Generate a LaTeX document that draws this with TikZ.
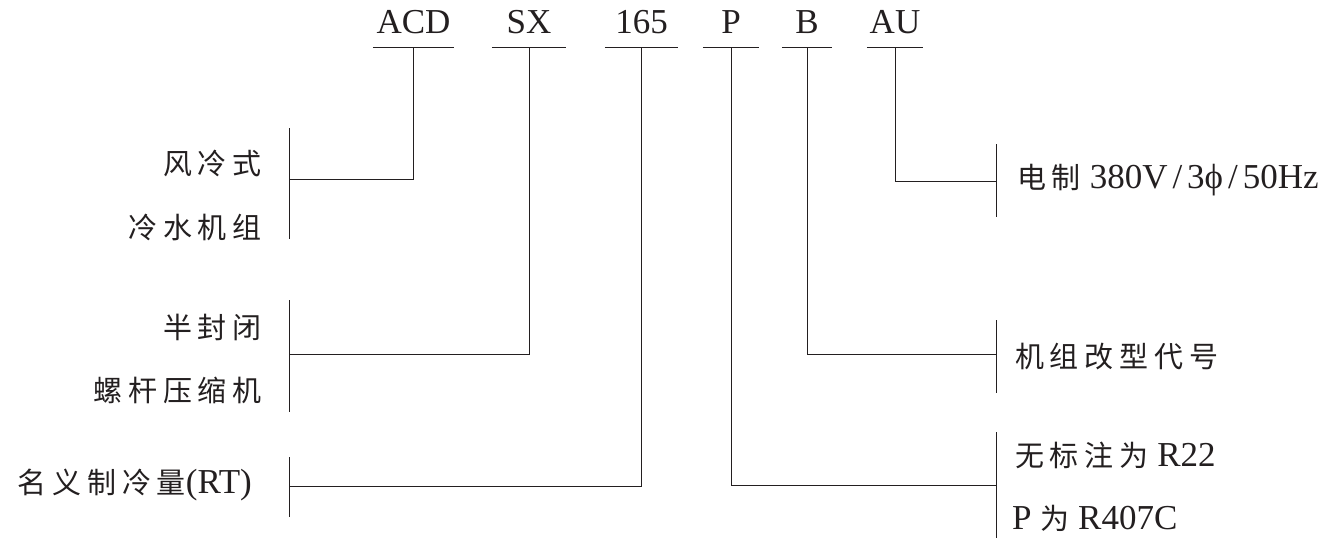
\documentclass[tikz,border=0pt]{standalone}
\usepackage{fontspec}
\setmainfont{Liberation Serif}
\newfontfamily\cjk[LetterSpace=20]{Noto Sans CJK SC}
\usetikzlibrary{positioning}
\definecolor{mainink}{HTML}{231F20}
\newcommand{\zh}[1]{{\cjk\fontsize{29}{32}\selectfont #1}}
\newcommand{\sep}{\hspace{5pt}/\hspace{5pt}}
\tikzset{
    codebox/.style={
        anchor=south,
        inner xsep=0pt,
        inner ysep=13pt,
        text=mainink,
        font=\fontsize{35}{40}\selectfont
    },
    leftlabel/.style={
        anchor=east,
        inner sep=0pt,
        text=mainink,
        font=\fontsize{35}{40}\selectfont
    },
    rightlabel/.style={
        anchor=west,
        inner sep=0pt,
        text=mainink,
        font=\fontsize{35}{40}\selectfont
    },
    link/.style={
        draw=mainink,
        line width=1pt
    }
}

\begin{document}
\begin{tikzpicture}[x=1pt, y=-1pt]
    \useasboundingbox (0,0) rectangle (1340,538);

    % model code
    \node[codebox, minimum width=81pt] (acd) at (413.5,47) {ACD};
    \node[codebox, minimum width=74pt] (sx) at (529,47) {SX};
    \node[codebox, minimum width=73pt] (n165) at (641.5,47) {165};
    \node[codebox, minimum width=56pt] (p) at (731,47) {P};
    \node[codebox, minimum width=50pt] (b) at (807,47) {B};
    \node[codebox, minimum width=56pt] (au) at (895,47) {AU};
    \foreach \c in {acd, sx, n165, p, b, au}
        \draw[link] (\c.south west) -- (\c.south east);

    % meanings, left side
    \node[leftlabel] (fl) at (262,163) {\zh{风冷式}};
    \node[leftlabel] (ls) at (262,227) {\zh{冷水机组}};
    \node[leftlabel] (bf) at (262,327) {\zh{半封闭}};
    \node[leftlabel] (lg) at (262,390) {\zh{螺杆压缩机}};
    \node[leftlabel] (mc) at (252,485) {\zh{名义制冷量}(RT)};

    % meanings, right side
    \node[rightlabel] (dz) at (1017,180) {\zh{电制} 380V\sep 3ϕ\sep 50Hz};
    \node[rightlabel] (gx) at (1015,357) {\zh{机组改型代号}};
    \node[rightlabel] (wb) at (1015,455) {\zh{无标注为} R22};
    \node[rightlabel] (pw) at (1012,518) {P \zh{为} R407C};

    % brackets
    \coordinate (jacd) at (289,179);
    \coordinate (jsx) at (289,354);
    \coordinate (j165) at (289,486);
    \coordinate (jau) at (996,181);
    \coordinate (jb) at (996,354);
    \coordinate (jp) at (996,485);
    \draw[link] (289,128) -- (289,239);
    \draw[link] (289,300) -- (289,412);
    \draw[link] (289,457) -- (289,517);
    \draw[link] (996,144) -- (996,217);
    \draw[link] (996,320) -- (996,393);
    \draw[link] (996,432) -- (996,538);

    \draw[link] (acd.south) |- (jacd);
    \draw[link] (sx.south) |- (jsx);
    \draw[link] (n165.south) |- (j165);
    \draw[link] (p.south) |- (jp);
    \draw[link] (b.south) |- (jb);
    \draw[link] (au.south) |- (jau);
\end{tikzpicture}
\end{document}
